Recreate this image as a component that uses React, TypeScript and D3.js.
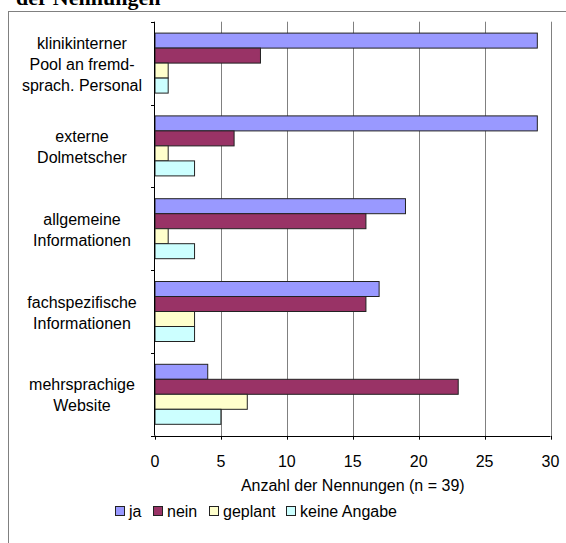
import React from "react";
import * as d3 from "d3";

// Survey answers per measure (number of mentions, n = 39)
const categories: string[][] = [
  ["klinikinterner", "Pool an fremd-", "sprach. Personal"],
  ["externe", "Dolmetscher"],
  ["allgemeine", "Informationen"],
  ["fachspezifische", "Informationen"],
  ["mehrsprachige", "Website"],
];
const seriesNames = ["ja", "nein", "geplant", "keine Angabe"];
const seriesColors = ["#9999FF", "#993366", "#FFFFCC", "#CCFFFF"];
const ja = [29, 29, 19, 17, 4];
const nein = [8, 6, 16, 16, 23];
const geplant = [1, 1, 1, 3, 7];
const keineAngabe = [1, 3, 3, 3, 5];
const xTicks = [0, 5, 10, 15, 20, 25, 30];
const axisTitle = "Anzahl der Nennungen (n = 39)";
const headline = "der Nennungen";

const W = 566;
const H = 543;
const FONT = "Arial, 'Liberation Sans', sans-serif";
const FS = 16;

export default function App() {
  const values = [ja, nein, geplant, keineAngabe];
  const x = d3.scaleLinear().domain([0, 30]).range([155, 550.5]);
  const plotTop = 21.7;
  const plotBottom = 435.7;
  const y0 = d3
    .scaleBand<number>()
    .domain(d3.range(categories.length))
    .range([plotTop, plotBottom])
    .paddingInner(0)
    .paddingOuter(0);
  const groupPad = (y0.bandwidth() - 60) / 2;
  const y1 = d3
    .scaleBand<number>()
    .domain(d3.range(seriesNames.length))
    .range([groupPad, y0.bandwidth() - groupPad]);

  const boundaries = d3.range(categories.length + 1).map((i) =>
    i < categories.length ? (y0(i) as number) : plotBottom
  );

  // legend layout
  const legendX = [115, 153, 209, 286];
  const legendY = 506;

  return (
    <svg
      width={W}
      height={H}
      style={{ position: "absolute", left: 0, top: 0, background: "#fff" }}
      fontFamily={FONT}
    >
      <rect x={0} y={0} width={W} height={H} fill="#fff" />
      {/* heading above the chart frame, running off the top edge */}
      <text
        x={16}
        y={5}
        fontFamily="'Times New Roman', 'Liberation Serif', serif"
        fontWeight="bold"
        fontSize={22}
        fill="#000"
      >
        {headline}
      </text>
      {/* chart frame */}
      <rect
        x={8.5}
        y={11.5}
        width={W}
        height={H}
        fill="none"
        stroke="#808080"
        strokeWidth={1}
      />

      {/* vertical gridlines */}
      {xTicks.slice(1).map((t) => (
        <line
          key={"g" + t}
          x1={Math.round(x(t)) + 0.5}
          x2={Math.round(x(t)) + 0.5}
          y1={plotTop}
          y2={plotBottom}
          stroke="#808080"
          strokeWidth={1}
        />
      ))}

      {/* bars */}
      {categories.map((_, ci) => (
        <g key={"c" + ci} transform={`translate(0,${y0(ci)})`}>
          {values.map((vals, si) => (
            <rect
              key={"b" + si}
              x={x(0)}
              y={y1(si)}
              width={x(vals[ci]) - x(0)}
              height={y1.bandwidth()}
              fill={seriesColors[si]}
              stroke="#222"
              strokeWidth={1}
            />
          ))}
        </g>
      ))}

      {/* value axis */}
      <line
        x1={x(0)}
        x2={x(30)}
        y1={Math.round(plotBottom) + 0.5}
        y2={Math.round(plotBottom) + 0.5}
        stroke="#000"
      />
      {xTicks.map((t) => (
        <g key={"t" + t}>
          <line
            x1={Math.round(x(t)) + 0.5}
            x2={Math.round(x(t)) + 0.5}
            y1={plotBottom}
            y2={plotBottom + 4}
            stroke="#000"
          />
          <text x={x(t)} y={467} textAnchor="middle" fontSize={FS} fill="#000">
            {t}
          </text>
        </g>
      ))}
      <text x={(x(0) + x(30)) / 2} y={491} textAnchor="middle" fontSize={FS} fill="#000">
        {axisTitle}
      </text>

      {/* category axis */}
      <line
        x1={Math.round(x(0)) - 0.5}
        x2={Math.round(x(0)) - 0.5}
        y1={plotTop}
        y2={plotBottom}
        stroke="#000"
      />
      {boundaries.map((b, i) => (
        <line
          key={"ct" + i}
          x1={x(0) - 4}
          x2={x(0)}
          y1={Math.round(b) + 0.5}
          y2={Math.round(b) + 0.5}
          stroke="#000"
        />
      ))}
      {categories.map((lines, ci) => {
        const cy = (y0(ci) as number) + y0.bandwidth() / 2;
        return (
          <text key={"l" + ci} textAnchor="middle" fontSize={FS} fill="#000">
            {lines.map((ln, li) => (
              <tspan
                key={li}
                x={82}
                y={cy + (li - (lines.length - 1) / 2) * 21 + 6.5}
              >
                {ln}
              </tspan>
            ))}
          </text>
        );
      })}

      {/* legend */}
      {seriesNames.map((name, i) => (
        <g key={"lg" + i}>
          <rect
            x={legendX[i] + 0.5}
            y={legendY + 0.5}
            width={9}
            height={9}
            fill={seriesColors[i]}
            stroke="#222"
          />
          <text x={legendX[i] + 14} y={legendY + 10.5} fontSize={FS} fill="#000">
            {name}
          </text>
        </g>
      ))}
    </svg>
  );
}
